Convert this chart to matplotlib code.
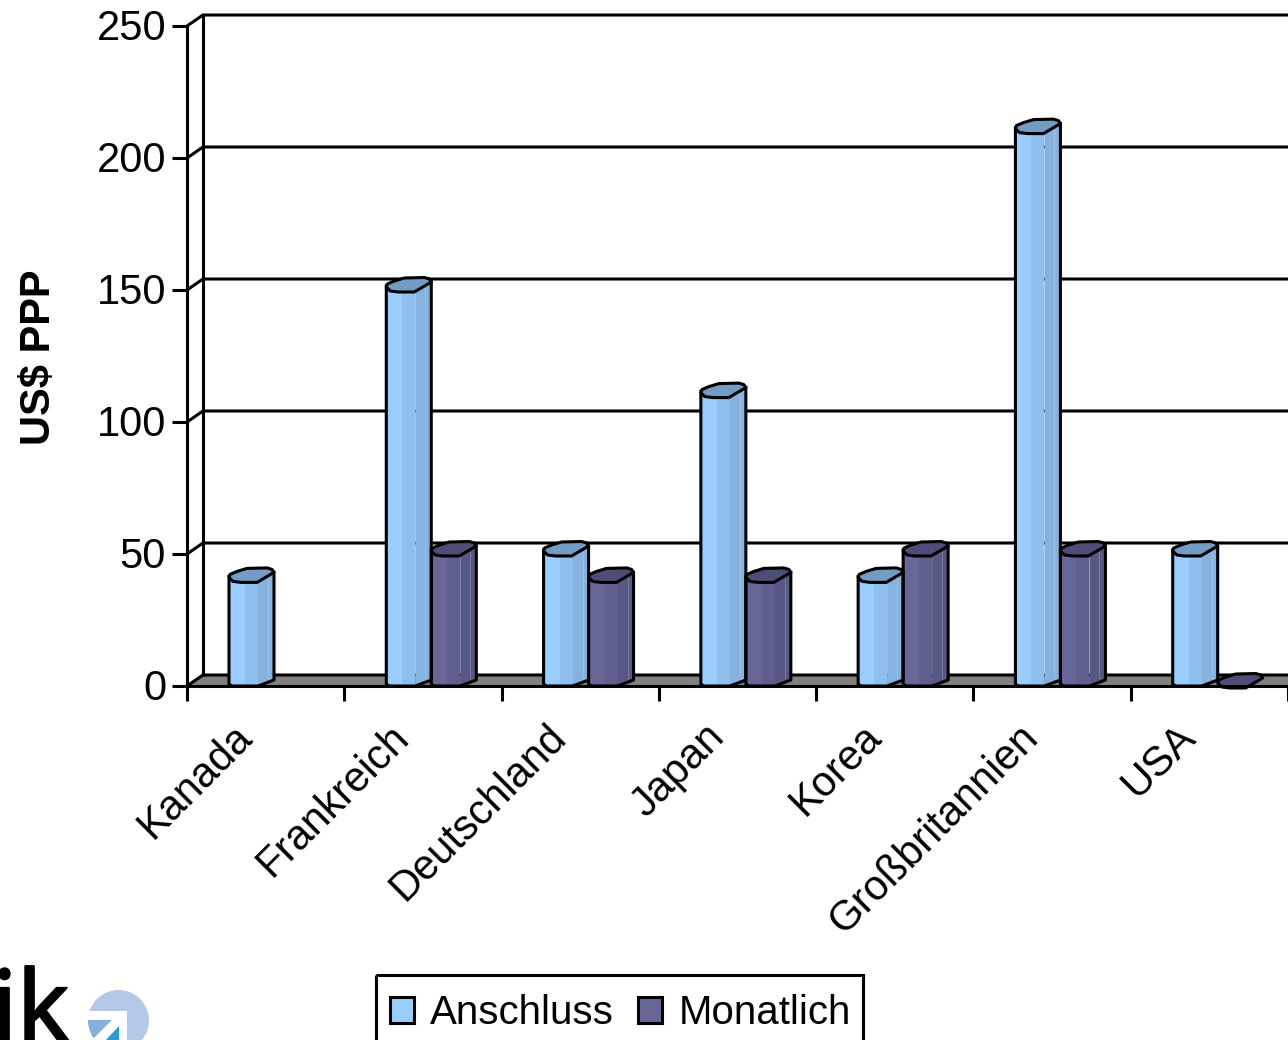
import numpy as np
import matplotlib
matplotlib.use('Agg')
import matplotlib.pyplot as plt
import matplotlib.patheffects as pe
from matplotlib.patches import Patch, Circle, Polygon, Rectangle
from matplotlib.transforms import ScaledTranslation

plt.rcParams['font.family'] = ['Liberation Sans', 'DejaVu Sans']

categories = ['Kanada', 'Frankreich', 'Deutschland', 'Japan', 'Korea',
              'Großbritannien', 'USA']
anschluss = [40, 150, 50, 110, 40, 210, 50]
monatlich = [np.nan, 50, 40, 40, 50, 50, 0]
y_ticks = [0, 50, 100, 150, 200, 250]

LW = 2.2
# pixel sizes expressed in data units
PX = 1 / 157.3
PY = 250 / 660
DEPTH_X = 16 * PX
DEPTH_Y = 11 * PY
BAR_W = 45 * PX

blue = ['#99CCFF', '#8FBFEC', '#85B2DE', '#739CC4', '#9CC6EC']
purple = ['#666699', '#5F5F8F', '#585884', '#4D4D77', '#8080A8']


def draw_bar(ax, x0, value, col):
    sx = lambda d: x0 + d * PX
    # body, three flat strips for the shading
    if value > 0:
        ax.fill([sx(0), sx(16), sx(16), sx(0)],
                [value, value, 0, 0], color=col[0], lw=0, zorder=3, clip_on=False)
        ax.fill([sx(16), sx(29), sx(29), sx(16)],
                [value, value, 0, 0], color=col[1], lw=0, zorder=3, clip_on=False)
        ax.fill([sx(29), sx(45), sx(45), sx(29)],
                [value + 6 * PY, value + 8 * PY, 6 * PY, 0],
                color=col[2], lw=0, zorder=3, clip_on=False)
        ax.plot([sx(39), sx(39)], [8 * PY, value + 2 * PY], color=col[4],
                lw=0.6, zorder=3, clip_on=False)
        ax.plot([sx(0), sx(0), sx(3), sx(29), sx(45), sx(45)],
                [value + 4 * PY, 2 * PY, 0, 0, 6 * PY, value + 8 * PY],
                color='k', lw=LW, zorder=4, clip_on=False, solid_joinstyle='round')
    # top cap
    cap_x = [sx(d) for d in [0, 1, 8, 18, 38, 43, 45, 28, 12, 4]]
    cap_y = [value + d * PY for d in [3, 6, 9, 12, 12.5, 11, 8, -2, -2, -1]]
    ax.fill(cap_x, cap_y, facecolor=col[3], edgecolor='k', lw=LW,
            zorder=5, clip_on=False, joinstyle='round')


fig = plt.figure(figsize=(12.88, 10.40), dpi=100)
ax = fig.add_axes([187 / 1288, (1040 - 686) / 1040, (1288 - 187) / 1288, 660 / 1040])
ax.set_xlim(0, 7)
ax.set_ylim(0, 250)
ax.patch.set_alpha(0)

# back wall, floor and gridlines
ax.fill([0, DEPTH_X, 7, 7], [0, DEPTH_Y, DEPTH_Y, 0], color='#808080', lw=0, zorder=1,
        clip_on=False)
for t in y_ticks:
    ax.plot([0, DEPTH_X, 7], [t, t + DEPTH_Y, t + DEPTH_Y], color='k', lw=LW, zorder=2,
            clip_on=False)
ax.plot([DEPTH_X, DEPTH_X], [DEPTH_Y, 250 + DEPTH_Y], color='k', lw=LW, zorder=2,
        clip_on=False)

left_edge = 42 * PX
for i in range(len(categories)):
    draw_bar(ax, i + left_edge, anschluss[i], blue)
    if not np.isnan(monatlich[i]):
        draw_bar(ax, i + left_edge + BAR_W, monatlich[i], purple)

ax.spines['top'].set_visible(False)
ax.spines['right'].set_visible(False)
ax.spines['left'].set_linewidth(LW)
ax.spines['bottom'].set_linewidth(LW)
ax.spines['left'].set_zorder(6)
ax.spines['bottom'].set_zorder(6)

ax.set_yticks(y_ticks)
ax.tick_params(axis='y', labelsize=30, length=11, width=LW, pad=4)
shift_up = ScaledTranslation(0, 1 / 100, fig.dpi_scale_trans)
for lab in ax.get_yticklabels():
    lab.set_transform(lab.get_transform() + shift_up)
ax.set_xticks(range(8), [''] * 8)
ax.tick_params(axis='x', which='major', length=11, width=LW)
ax.set_xticks(np.arange(len(categories)) + 0.285, categories, minor=True)
ax.tick_params(axis='x', which='minor', length=0, pad=22, labelsize=30)
for lab in ax.get_xticklabels(minor=True):
    lab.set_rotation(45)
    lab.set_ha('right')
    lab.set_va('top')
    lab.set_rotation_mode('anchor')

ax.set_ylabel('US$ PPP', fontsize=30, fontweight='bold')
ax.yaxis.set_label_coords((59 - 187) / 1101, (686 - 357) / 660)

handles = [Patch(facecolor=blue[0], edgecolor='k', lw=LW, label='Anschluss'),
           Patch(facecolor=purple[0], edgecolor='k', lw=LW, label='Monatlich')]
leg = ax.legend(handles=handles, ncol=2, loc='upper left',
                bbox_to_anchor=(390 / 1288, 1 - 994 / 1040), bbox_transform=fig.transFigure,
                borderaxespad=0, fontsize=29, frameon=False, borderpad=0,
                handlelength=0.6, handleheight=0.6, handletextpad=0.4,
                columnspacing=0.6)

# logo and legend frame, in pixel coordinates
la = fig.add_axes([0, 0, 1, 1])
la.set_xlim(0, 1288)
la.set_ylim(1040, 0)
la.axis('off')
la.patch.set_alpha(0)
la.add_patch(Rectangle((376, 975), 487, 90, fill=False, edgecolor='k', lw=LW))
la.text(-8, 1040, 'ik', fontsize=70, family='Noto Sans', color='k', ha='left', va='baseline',
        path_effects=[pe.withStroke(linewidth=1.5, foreground='k')])
circ = Circle((118.5, 1020.5), 30.5, color='#B4C9E7', lw=0)
la.add_patch(circ)
la.add_patch(Polygon([(87, 1011), (127, 1011), (127, 1045), (87, 1045)], color='white', lw=0))
wedge = Polygon([(85, 1020), (112, 1020), (94, 1038), (85, 1038)], color='#85B0DC', lw=0)
la.add_patch(wedge)
wedge.set_clip_path(Circle((118.5, 1020.5), 30.5, transform=la.transData))
la.add_patch(Polygon([(119, 1026), (119, 1041), (105, 1041)], color='#2E9AD3', lw=0))

fig.savefig('out.png', dpi=100)
